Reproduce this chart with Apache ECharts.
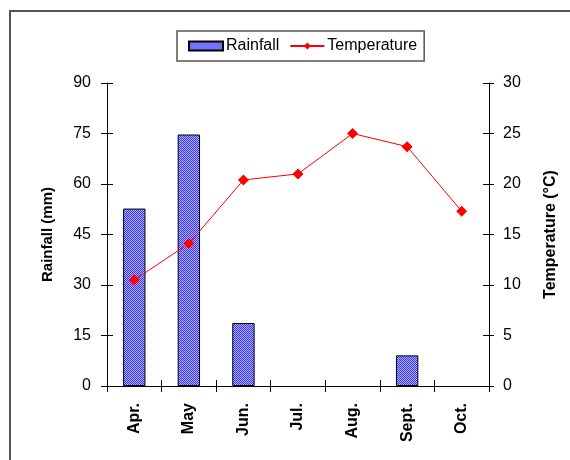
<!DOCTYPE html>
<html><head><meta charset="utf-8">
<script src="https://cdn.jsdelivr.net/npm/echarts@6/dist/echarts.min.js"></script>
<style>html,body{margin:0;padding:0;background:#fff}#c{width:570px;height:460px}</style>
</head><body><div id="c"></div>
<script>
const categories = ['Apr.', 'May', 'Jun.', 'Jul.', 'Aug.', 'Sept.', 'Oct.'];
const rainfall = [52.7, 74.7, 18.7, null, null, 9.1, null];
const temperature = [10.5, 14.1, 20.4, 21.0, 25.0, 23.7, 17.3];
const rainTicks = [0, 90, 15];
const tempTicks = [0, 30, 5];

const pc = document.createElement('canvas');
pc.width = 2; pc.height = 2;
const g = pc.getContext('2d');
g.fillStyle = '#b0b0ff'; g.fillRect(0, 0, 2, 2);
g.fillStyle = '#3535ff'; g.fillRect(0, 0, 1, 1); g.fillRect(1, 1, 1, 1);
const pattern = { image: pc, repeat: 'repeat' };

const font = 'Liberation Sans, Arial, sans-serif';
const chart = echarts.init(document.getElementById('c'), null, { renderer: 'canvas' });
const axisLine = { show: true, lineStyle: { color: '#000', width: 1 } };
chart.setOption({
  backgroundColor: '#fff',
  animation: false,
  textStyle: { fontFamily: font },
  graphic: [{
    type: 'rect', shape: { x: 10, y: 11, width: 600, height: 500 },
    style: { fill: null, stroke: '#555', lineWidth: 2 }, silent: true
  }],
  legend: {
    top: 31, left: 177,
    data: [{ name: 'Rainfall', icon: 'rect' }, { name: 'Temperature' }],
    itemGap: 10, itemWidth: 34, itemHeight: 9,
    padding: [7, 7, 7, 11],
    borderColor: '#555', borderWidth: 1.5,
    textStyle: { fontSize: 16, color: '#000', fontFamily: font, padding: [0, 0, 0, -2] }
  },
  grid: { left: 107, right: 81, top: 83, bottom: 74, containLabel: false },
  xAxis: [{
    type: 'category', data: categories,
    axisLine: axisLine,
    axisTick: { show: true, length: 6, lineStyle: { color: '#000' } },
    axisLabel: { rotate: 90, fontWeight: 'bold', fontSize: 16, color: '#000', margin: 17, fontFamily: font },
    splitLine: { show: false }
  }, {
    type: 'category', data: categories, position: 'bottom',
    axisLine: { show: false },
    axisTick: { show: true, inside: true, length: 6, lineStyle: { color: '#000' } },
    axisLabel: { show: false }
  }],
  yAxis: [{
    type: 'value', min: rainTicks[0], max: rainTicks[1], interval: rainTicks[2],
    name: 'Rainfall (mm)', nameLocation: 'middle', nameGap: 52, nameRotate: 90,
    nameTextStyle: { fontWeight: 'bold', fontSize: 15, color: '#000', fontFamily: font },
    axisLine: axisLine,
    axisTick: { show: true, length: 6, lineStyle: { color: '#000' } },
    axisLabel: { fontSize: 16, color: '#000', margin: 16, fontFamily: font },
    splitLine: { show: false }
  }, {
    type: 'value', min: tempTicks[0], max: tempTicks[1], interval: tempTicks[2],
    position: 'right',
    name: 'Temperature (°C)', nameLocation: 'middle', nameGap: 54, nameRotate: 90,
    nameTextStyle: { fontWeight: 'bold', fontSize: 16, color: '#000', fontFamily: font },
    axisLine: axisLine,
    axisTick: { show: true, length: 5, lineStyle: { color: '#000' } },
    axisLabel: { fontSize: 16, color: '#000', margin: 14, fontFamily: font },
    splitLine: { show: false }
  }, {
    type: 'value', min: rainTicks[0], max: rainTicks[1], interval: rainTicks[2], position: 'left',
    axisLine: { show: false }, axisLabel: { show: false }, splitLine: { show: false },
    axisTick: { show: true, inside: true, length: 6, lineStyle: { color: '#000' } }
  }, {
    type: 'value', min: tempTicks[0], max: tempTicks[1], interval: tempTicks[2], position: 'right',
    axisLine: { show: false }, axisLabel: { show: false }, splitLine: { show: false },
    axisTick: { show: true, inside: true, length: 6, lineStyle: { color: '#000' } }
  }],
  series: [{
    name: 'Rainfall', type: 'bar', data: rainfall, yAxisIndex: 0,
    barWidth: '41%',
    itemStyle: { color: pattern, borderColor: '#000', borderWidth: 1 }
  }, {
    name: 'Temperature', type: 'line', data: temperature, yAxisIndex: 1,
    symbol: 'diamond', symbolSize: 11,
    lineStyle: { color: '#ff0000', width: 1 },
    itemStyle: { color: '#ff0000' }
  }]
});
</script></body></html>
